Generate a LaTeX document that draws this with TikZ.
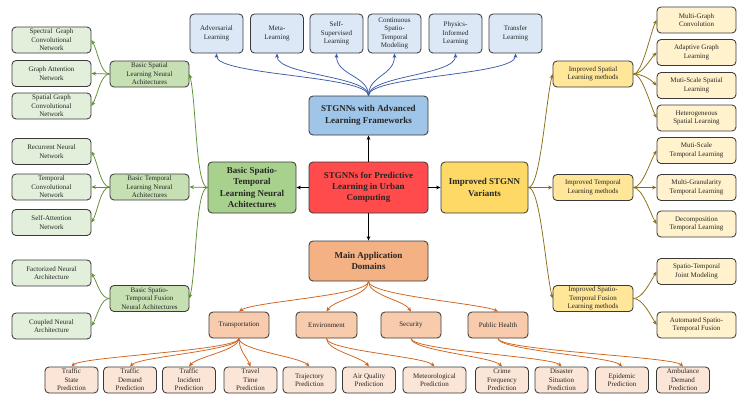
\documentclass[tikz,border=0pt]{standalone}
\usepackage{fontspec}
\setmainfont{Liberation Serif}
\usetikzlibrary{arrows.meta}
\definecolor{bordc}{HTML}{3A3A3A}
\definecolor{blueline}{HTML}{3B5CA8}
\definecolor{greenline}{HTML}{5E8F32}
\definecolor{goldline}{HTML}{8A6D14}
\definecolor{orangeline}{HTML}{D0631A}
\definecolor{bluelite}{HTML}{DCE8F6}
\definecolor{bluemid}{HTML}{9FC5E8}
\definecolor{greenlite}{HTML}{E2EFDA}
\definecolor{greensub}{HTML}{C6E0B4}
\definecolor{greenmain}{HTML}{A9D18E}
\definecolor{yellite}{HTML}{FFF2CC}
\definecolor{yelsub}{HTML}{FFE699}
\definecolor{yelmain}{HTML}{FFD966}
\definecolor{redmain}{HTML}{FF4B4B}
\definecolor{ormain}{HTML}{F4B183}
\definecolor{orsub}{HTML}{F8CBAD}
\definecolor{orlite}{HTML}{FBE5D6}
\begin{document}
\begin{tikzpicture}[x=1pt,y=-1pt,
  box/.style={draw=bordc, line width=0.85pt, rounded corners=4pt, align=center, inner sep=0pt,
    font=\fontsize{7}{8.6}\selectfont, text=black!85},
  bigbox/.style={box, font=\fontsize{9}{11.3}\selectfont\bfseries},
  tip/.style={-{Stealth[length=4.5pt,width=3.8pt]}, line width=0.75pt},
  bl/.style={tip, draw=blueline, -{Stealth[length=4.5pt,width=3.8pt,fill=blueline]}},
  gl/.style={tip, draw=greenline, -{Stealth[length=4.5pt,width=3.8pt,fill=greenline]}},
  yl/.style={tip, draw=goldline, -{Stealth[length=4.5pt,width=3.8pt,fill=goldline]}},
  ol/.style={tip, draw=orangeline, -{Stealth[length=4.5pt,width=3.8pt,fill=orangeline]}},
  kl/.style={tip, draw=black, -{Stealth[length=4.5pt,width=3.8pt,fill=black]}},
  topb/.style={box, fill=bluelite, minimum width=53pt, minimum height=39pt},
  gleaf/.style={box, fill=greenlite, minimum width=79pt, minimum height=26pt},
  gsub/.style={box, fill=greensub, minimum width=79pt, minimum height=26pt},
  yleaf/.style={box, fill=yellite, minimum width=79pt, minimum height=26pt},
  ysub/.style={box, fill=yelsub, minimum width=80pt, minimum height=26pt},
  dom/.style={box, fill=orsub, minimum width=60pt, minimum height=26pt},
  oleaf/.style={box, fill=orlite, minimum width=53pt, minimum height=26pt, font=\fontsize{7}{8.5}\selectfont}
]
\useasboundingbox (0,0) rectangle (748,400);
\fill[white] (0,0) rectangle (748,400);

% top row
\node[topb] (t1) at (216.5,33.5) {Adversarial\\Learning};
\node[topb] (t2) at (277,33.5) {Meta-\\Learning};
\node[topb] (t3) at (336.5,33.5) {Self-\\Supervised\\Learning};
\node[topb] (t4) at (394.5,33.5) {Continuous\\Spatio-\\Temporal\\Modeling};
\node[topb] (t5) at (455.5,33.5) {Physics-\\Informed\\Learning};
\node[topb] (t6) at (515.5,33.5) {Transfer\\Learning};

% main boxes
\node[bigbox, fill=bluemid, minimum width=119pt, minimum height=39pt] (adv) at (368.5,115.5) {STGNNs with Advanced\\Learning Frameworks};
\node[bigbox, fill=redmain, minimum width=119pt, minimum height=51pt] (c) at (368.5,187.5) {STGNNs for Predictive\\Learning in Urban\\Computing};
\node[bigbox, fill=greenmain, minimum width=88pt, minimum height=51pt] (gm) at (252,187.5) {Basic Spatio-\\Temporal\\Learning Neural\\Achitectures};
\node[bigbox, fill=yelmain, minimum width=87pt, minimum height=51pt] (ym) at (484.5,187.5) {Improved STGNN\\Variants};
\node[bigbox, fill=ormain, minimum width=119pt, minimum height=40pt] (ma) at (368.5,261) {Main Application\\Domains};

% left
\node[gleaf] (l1) at (51.5,40) {Spectral~ Graph\\Convolutional\\Network};
\node[gleaf] (l2) at (51.5,73.5) {Graph Attention\\Network};
\node[gleaf] (l3) at (51.5,106) {Spatial Graph\\Convolutional\\Network};
\node[gleaf] (l4) at (51.5,151.5) {Recurrent Neural\\Network};
\node[gleaf] (l5) at (51.5,187) {Temporal\\Convolutional\\Network};
\node[gleaf] (l6) at (51.5,222.5) {Self-Attention\\Network};
\node[gleaf] (l7) at (51.5,273) {Factorized Neural\\Architecture};
\node[gleaf] (l8) at (51.5,326) {Coupled Neural\\Architecture};
\node[gsub] (bs) at (149.5,74) {Basic Spatial\\Learning Neural\\Achitectures};
\node[gsub] (bt) at (149.5,187) {Basic Temporal\\Learning Neural\\Achitectures};
\node[gsub] (bf) at (149.5,298.5) {Basic Spatio-\\Temporal Fusion\\Neural Achitectures};

% right
\node[yleaf] (r1) at (696.5,20) {Multi-Graph\\Convolution};
\node[yleaf] (r2) at (696.5,52.5) {Adaptive Graph\\Learning};
\node[yleaf] (r3) at (696.5,85.5) {Muti-Scale Spatial\\Learning};
\node[yleaf] (r4) at (696.5,118) {Heterogeneous\\Spatial Learning};
\node[yleaf] (r5) at (696.5,150.5) {Muti-Scale\\Temporal Learning};
\node[yleaf] (r6) at (696.5,187.5) {Multi-Granularity\\Temporal Learning};
\node[yleaf] (r7) at (696.5,224) {Decomposition\\Temporal Learning};
\node[yleaf] (r8) at (696.5,271.5) {Spatio-Temporal\\Joint Modeling};
\node[yleaf] (r9) at (696.5,325) {Automated Spatio-\\Temporal Fusion};
\node[ysub] (is) at (593,74) {Improved Spatial\\Learning methods};
\node[ysub] (it) at (593,187.5) {Improved Temporal\\Learning methods};
\node[ysub] (if) at (593,298.5) {Improved Spatio-\\Temporal Fusion\\Learning methods};

% domains
\node[dom] (d1) at (239,325) {Transportation};
\node[dom, minimum width=61pt] (d2) at (326.5,325) {Environment};
\node[dom] (d3) at (411,325) {Security};
\node[dom] (d4) at (498,325) {Public Health};

% bottom
\node[oleaf] (b1) at (71.5,380) {Traffic\\State\\Prediction};
\node[oleaf] (b2) at (130,380) {Traffic\\Demand\\Prediction};
\node[oleaf] (b3) at (189,380) {Traffic\\Incident\\Prediction};
\node[oleaf] (b4) at (250.5,380) {Travel\\Time\\Prediction};
\node[oleaf] (b5) at (309.5,380) {Trajectory\\Prediction};
\node[oleaf] (b6) at (369,380) {Air Quality\\Prediction};
\node[oleaf, minimum width=63pt] (b7) at (434.5,380) {Meteorological\\Prediction};
\node[oleaf] (b8) at (502,380) {Crime\\Frequency\\Prediction};
\node[oleaf] (b9) at (561.5,380) {Disaster\\Situation\\Prediction};
\node[oleaf] (b10) at (622,380) {Epidemic\\Prediction};
\node[oleaf] (b11) at (683,380) {Ambulance\\Demand\\Prediction};

% center connectors
\draw[kl] (c.north) -- (adv.south);
\draw[kl] (c.west) -- (gm.east);
\draw[kl] (c.east) -- (ym.west);
\draw[kl] (c.south) -- (ma.north);

% blue fan
\foreach \t in {t1,t2,t3,t4,t5,t6}
  \draw[bl] (adv.north) .. controls +(0,-20) and +(0,22) .. (\t.south);

% green
\draw[gl] (gm.west) .. controls +(-12,0) and +(7,28) .. (bs.east);
\draw[gl] (gm.west) -- (bt.east);
\draw[gl] (gm.west) .. controls +(-12,0) and +(7,-28) .. (bf.east);
\draw[gl] (bs.west) .. controls +(-9,0) and +(6,10) .. (l1.east);
\draw[gl] (bs.west) -- (l2.east);
\draw[gl] (bs.west) .. controls +(-9,0) and +(6,-10) .. (l3.east);
\draw[gl] (bt.west) .. controls +(-9,0) and +(6,10) .. (l4.east);
\draw[gl] (bt.west) -- (l5.east);
\draw[gl] (bt.west) .. controls +(-9,0) and +(6,-10) .. (l6.east);
\draw[gl] (bf.west) .. controls +(-9,0) and +(6,10) .. (l7.east);
\draw[gl] (bf.west) .. controls +(-9,0) and +(6,-10) .. (l8.east);

% gold
\draw[yl] (ym.east) .. controls +(12,0) and +(-7,28) .. (is.west);
\draw[yl] (ym.east) -- (it.west);
\draw[yl] (ym.east) .. controls +(12,0) and +(-7,-28) .. (if.west);
\draw[yl] (is.east) .. controls +(9,0) and +(-6,12) .. (r1.west);
\draw[yl] (is.east) .. controls +(9,0) and +(-6,6) .. (r2.west);
\draw[yl] (is.east) .. controls +(9,0) and +(-6,-6) .. (r3.west);
\draw[yl] (is.east) .. controls +(9,0) and +(-6,-12) .. (r4.west);
\draw[yl] (it.east) .. controls +(9,0) and +(-6,10) .. (r5.west);
\draw[yl] (it.east) -- (r6.west);
\draw[yl] (it.east) .. controls +(9,0) and +(-6,-10) .. (r7.west);
\draw[yl] (if.east) .. controls +(9,0) and +(-6,10) .. (r8.west);
\draw[yl] (if.east) .. controls +(9,0) and +(-6,-10) .. (r9.west);

% orange
\draw[ol] (ma.south) .. controls +(0,14) and +(14,-10) .. (d1.north);
\draw[ol] (ma.south) .. controls +(0,14) and +(8,-12) .. (d2.north);
\draw[ol] (ma.south) .. controls +(0,14) and +(-8,-12) .. (d3.north);
\draw[ol] (ma.south) .. controls +(0,14) and +(-16,-8) .. (d4.north);
\draw[ol] (d1.south) .. controls +(0,12) and +(10,-10) .. (b1.north);
\draw[ol] (d1.south) .. controls +(0,12) and +(10,-10) .. (b2.north);
\draw[ol] (d1.south) .. controls +(0,12) and +(8,-10) .. (b3.north);
\draw[ol] (d1.south) .. controls +(0,12) and +(-4,-10) .. (b4.north);
\draw[ol] (d1.south) .. controls +(0,12) and +(-10,-10) .. (b5.north);
\draw[ol] (d2.south) .. controls +(0,12) and +(-8,-10) .. (b6.north);
\draw[ol] (d2.south) .. controls +(0,12) and +(-10,-10) .. (b7.north);
\draw[ol] (d3.south) .. controls +(0,12) and +(-10,-10) .. (b8.north);
\draw[ol] (d3.south) .. controls +(0,12) and +(-10,-10) .. (b9.north);
\draw[ol] (d4.south) .. controls +(0,12) and +(-10,-10) .. (b10.north);
\draw[ol] (d4.south) .. controls +(0,12) and +(-10,-10) .. (b11.north);
\end{tikzpicture}
\end{document}
